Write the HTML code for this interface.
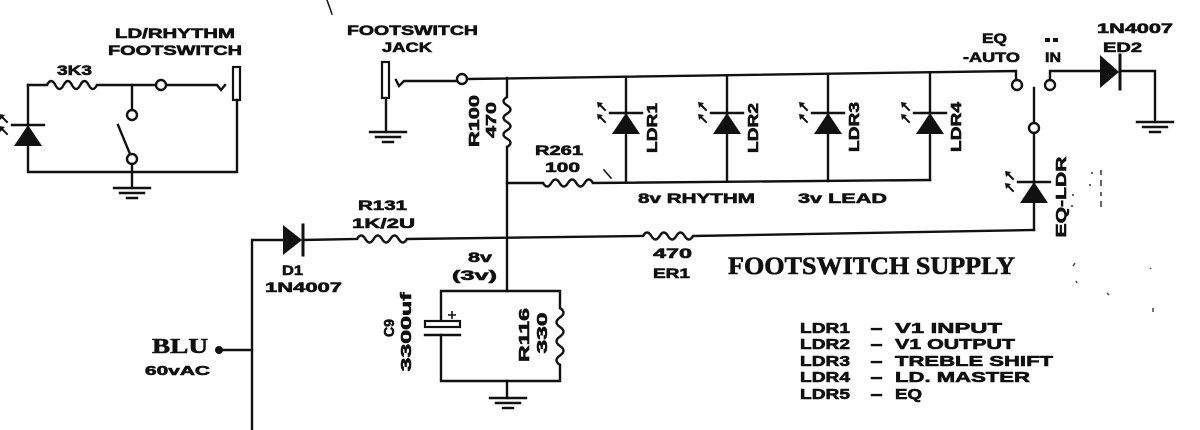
<!DOCTYPE html>
<html><head><meta charset="utf-8"><style>
html,body{margin:0;padding:0;background:#fff;width:1200px;height:430px;overflow:hidden}
svg{display:block}
text{font-family:"Liberation Sans",sans-serif;font-weight:bold;fill:#111;stroke:#111;stroke-width:0.6px}
.w{fill:none;stroke:#111;stroke-width:2.4;stroke-linecap:square}
.r{fill:none;stroke:#111;stroke-width:2.4}
</style></head><body>
<svg width="1200" height="430" viewBox="0 0 1200 430" xmlns="http://www.w3.org/2000/svg">
<defs>
<g id="ldr">
  <path d="M-16 0H16" class="w"/>
  <path d="M0 0L-14 21H14Z" fill="#111"/>
  <path d="M-27 -9L-21 -3M-27 3L-21 9" class="w" style="stroke-width:2"/>
  <path d="M-29 -11L-23 -10L-28 -5Z M-29 1L-23 2L-28 7Z" fill="#111"/>
</g>
<g id="gnd">
  <path d="M-18 0H18M-12 5H12M-5 10H5" class="w"/>
</g>
</defs>

<!-- stray mark top -->
<path d="M327 0L332 14" class="w" style="stroke-width:1.5"/>

<!-- ============ LEFT FOOTSWITCH CIRCUIT ============ -->
<text x="115" y="38" font-size="14" textLength="120" lengthAdjust="spacingAndGlyphs">LD/RHYTHM</text>
<text x="108" y="55" font-size="14" textLength="134" lengthAdjust="spacingAndGlyphs">FOOTSWITCH</text>
<text x="57" y="75" font-size="14" textLength="35" lengthAdjust="spacingAndGlyphs">3K3</text>
<path d="M28 85H47" class="w"/>
<path d="M47 85q4.17 -8 8.33 0t8.33 0t8.33 0t8.33 0t8.33 0t8.33 0" class="r"/>
<path d="M97 85H156M166 85H217L221 90L225 85" class="w"/>
<circle cx="161" cy="85" r="5" fill="#fff" stroke="#111" stroke-width="2.4"/>
<rect x="233" y="67" width="7" height="33" fill="#fff" stroke="#111" stroke-width="2.2"/>
<path d="M237 100V172H28V85" class="w"/>
<path d="M132 85V110" class="w"/>
<circle cx="132" cy="115" r="5" fill="#fff" stroke="#111" stroke-width="2.4"/>
<path d="M118 125L130 154" class="w"/>
<circle cx="132" cy="159" r="5" fill="#fff" stroke="#111" stroke-width="2.4"/>
<path d="M132 164V188" class="w"/>
<use href="#gnd" x="132" y="188"/>
<use href="#ldr" x="28" y="125"/>

<!-- ============ FOOTSWITCH JACK ============ -->
<text x="347" y="35" font-size="14" textLength="131" lengthAdjust="spacingAndGlyphs">FOOTSWITCH</text>
<text x="382" y="52" font-size="14" textLength="50" lengthAdjust="spacingAndGlyphs">JACK</text>
<rect x="382" y="62" width="7" height="36" fill="#fff" stroke="#111" stroke-width="2.2"/>
<path d="M386 98V132" class="w"/>
<use href="#gnd" x="388" y="132"/>
<path d="M396 80L399 86L404 81H457" class="w"/>
<circle cx="462" cy="79" r="5" fill="#fff" stroke="#111" stroke-width="2.4"/>
<!-- top bus -->
<path d="M467 79L1016 71V80" class="w"/>

<!-- R100 -->
<path d="M507 78V97" class="w"/>
<path d="M507 97q-7 4.17 0 8.33t0 8.33t0 8.33t0 8.33t0 8.33t0 8.33" class="r"/>
<path d="M507 147V291" class="w"/>
<text transform="translate(474,121) rotate(-90)" text-anchor="middle" y="5" font-size="15" textLength="52" lengthAdjust="spacingAndGlyphs">R100</text>
<text transform="translate(491,120) rotate(-90)" text-anchor="middle" y="5" font-size="15" textLength="36" lengthAdjust="spacingAndGlyphs">470</text>

<!-- R261 -->
<text x="535" y="155" font-size="14" textLength="48" lengthAdjust="spacingAndGlyphs">R261</text>
<text x="545" y="172" font-size="14" textLength="35" lengthAdjust="spacingAndGlyphs">100</text>
<path d="M507 183H543" class="w"/>
<path d="M543 183q4.17 7 8.33 0t8.33 0t8.33 0t8.33 0t8.33 0t8.33 0" class="r"/>
<path d="M593 183L930 180" class="w"/>
<path d="M604 170L611 178" class="w" style="stroke-width:1.6"/>

<!-- LDR columns -->
<path d="M626 76.7V182.5M727 75.2V181.8M828 73.7V181M930 72.2V180" class="w"/>
<use href="#ldr" x="626" y="113"/>
<use href="#ldr" x="727" y="113"/>
<use href="#ldr" x="828" y="113"/>
<use href="#ldr" x="930" y="113"/>
<text transform="translate(652,128) rotate(-90)" text-anchor="middle" y="5" font-size="15" textLength="50" lengthAdjust="spacingAndGlyphs">LDR1</text>
<text transform="translate(753,128) rotate(-90)" text-anchor="middle" y="5" font-size="15" textLength="50" lengthAdjust="spacingAndGlyphs">LDR2</text>
<text transform="translate(854,127) rotate(-90)" text-anchor="middle" y="5" font-size="15" textLength="50" lengthAdjust="spacingAndGlyphs">LDR3</text>
<text transform="translate(956,127) rotate(-90)" text-anchor="middle" y="5" font-size="15" textLength="50" lengthAdjust="spacingAndGlyphs">LDR4</text>
<text x="638" y="203" font-size="14" textLength="117" lengthAdjust="spacingAndGlyphs">8v  RHYTHM</text>
<text x="798" y="203" font-size="14" textLength="89" lengthAdjust="spacingAndGlyphs">3v  LEAD</text>

<!-- ============ RIGHT (EQ) ============ -->
<text x="982" y="43" font-size="14" textLength="25" lengthAdjust="spacingAndGlyphs">EQ</text>
<text x="963" y="62" font-size="14" textLength="57" lengthAdjust="spacingAndGlyphs">-AUTO</text>
<rect x="1045" y="38" width="5" height="4" fill="#111"/>
<rect x="1053" y="38" width="5" height="4" fill="#111"/>
<text x="1045" y="62" font-size="14" textLength="16" lengthAdjust="spacingAndGlyphs">IN</text>
<circle cx="1017" cy="85" r="5" fill="#fff" stroke="#111" stroke-width="2.4"/>
<circle cx="1050" cy="85" r="5" fill="#fff" stroke="#111" stroke-width="2.4"/>
<path d="M1050 80V71H1100" class="w"/>
<path d="M1100 55V88L1119 72Z" fill="#111"/>
<path d="M1120 55V89" class="w" style="stroke-width:3"/>
<path d="M1120 71H1155V122" class="w"/>
<use href="#gnd" x="1155" y="122"/>
<text x="1097" y="33" font-size="14" textLength="76" lengthAdjust="spacingAndGlyphs">1N4007</text>
<text x="1103" y="52" font-size="14" textLength="39" lengthAdjust="spacingAndGlyphs">ED2</text>
<path d="M1034 88V123" class="w"/>
<circle cx="1034" cy="128" r="5" fill="#fff" stroke="#111" stroke-width="2.4"/>
<path d="M1034 133V230" class="w"/>
<use href="#ldr" x="1034" y="182"/>
<text transform="translate(1061,197) rotate(-90)" text-anchor="middle" y="5" font-size="15" textLength="81" lengthAdjust="spacingAndGlyphs">EQ-LDR</text>
<!-- faint dotted marks -->
<path d="M1101 170V175M1101 180V186M1101 192V196M1101 201V207M1092 172V174M1090 184V186M1073 194V196M1072 205V207" stroke="#333" stroke-width="1.5"/>
<path d="M1073 266L1075 263M1076 281L1077 283M1107 293L1109 295M1150 268L1151 269M1153 308L1153 312" stroke="#444" stroke-width="1.5"/>

<!-- ============ SUPPLY ============ -->
<path d="M252 430V240H283" class="w"/>
<path d="M283 225V255L302 240Z" fill="#111"/>
<path d="M303 225V255" class="w" style="stroke-width:3"/>
<path d="M303 240L357 239" class="w"/>
<path d="M357 239q4.17 -7 8.33 0t8.33 0t8.33 0t8.33 0t8.33 0t8.33 0" class="r"/>
<path d="M407 239L643 236" class="w"/>
<path d="M643 236q4.17 -7 8.33 0t8.33 0t8.33 0t8.33 0t8.33 0t8.33 0" class="r"/>
<path d="M693 236L1034 230" class="w"/>
<text x="358" y="210" font-size="14" textLength="49" lengthAdjust="spacingAndGlyphs">R131</text>
<text x="352" y="228" font-size="14" textLength="63" lengthAdjust="spacingAndGlyphs">1K/2U</text>
<text x="282" y="275" font-size="14" textLength="21" lengthAdjust="spacingAndGlyphs">D1</text>
<text x="265" y="292" font-size="14" textLength="77" lengthAdjust="spacingAndGlyphs">1N4007</text>
<text x="653" y="258" font-size="14" textLength="39" lengthAdjust="spacingAndGlyphs">470</text>
<text x="653" y="278" font-size="14" textLength="37" lengthAdjust="spacingAndGlyphs">ER1</text>
<text x="152" y="353" font-size="21" style="font-family:'Liberation Serif',serif" textLength="56" lengthAdjust="spacingAndGlyphs">BLU</text>
<text x="145" y="375" font-size="13" textLength="65" lengthAdjust="spacingAndGlyphs">60vAC</text>
<circle cx="219" cy="350" r="4" fill="#111"/>
<path d="M219 350H252" class="w"/>
<text x="468" y="262" font-size="14" textLength="24" lengthAdjust="spacingAndGlyphs">8v</text>
<text x="452" y="280" font-size="14" textLength="45" lengthAdjust="spacingAndGlyphs">(3v)</text>

<!-- C9 / R116 box -->
<path d="M441 322V291H560V308" class="w"/>
<rect x="425" y="321" width="35" height="6" fill="#fff" stroke="#111" stroke-width="2.2"/>
<path d="M425 335H460" class="w"/>
<path d="M452 311V319M448 315H456" stroke="#111" stroke-width="1.6"/>
<path d="M441 335V381H560V365" class="w"/>
<path d="M560 308q7 4.75 0 9.5t0 9.5t0 9.5t0 9.5t0 9.5t0 9.5" class="r"/>
<path d="M507 381V398" class="w"/>
<use href="#gnd" x="508" y="398"/>
<text transform="translate(389,328) rotate(-90)" text-anchor="middle" y="5" font-size="15" textLength="18" lengthAdjust="spacingAndGlyphs">C9</text>
<text transform="translate(406,332) rotate(-90)" text-anchor="middle" y="5" font-size="15" textLength="79" lengthAdjust="spacingAndGlyphs">3300uf</text>
<text transform="translate(524,335) rotate(-90)" text-anchor="middle" y="5" font-size="15" textLength="54" lengthAdjust="spacingAndGlyphs">R116</text>
<text transform="translate(542,333) rotate(-90)" text-anchor="middle" y="5" font-size="15" textLength="41" lengthAdjust="spacingAndGlyphs">330</text>

<!-- Title -->
<text x="728" y="274" font-size="25" style="font-family:'Liberation Serif',serif;font-weight:bold" textLength="287" lengthAdjust="spacingAndGlyphs">FOOTSWITCH SUPPLY</text>

<!-- Legend -->
<g font-size="15">
<text x="800" y="333" textLength="50" lengthAdjust="spacingAndGlyphs">LDR1</text>
<text x="800" y="349" textLength="50" lengthAdjust="spacingAndGlyphs">LDR2</text>
<text x="800" y="366" textLength="50" lengthAdjust="spacingAndGlyphs">LDR3</text>
<text x="800" y="382" textLength="50" lengthAdjust="spacingAndGlyphs">LDR4</text>
<text x="800" y="399" textLength="50" lengthAdjust="spacingAndGlyphs">LDR5</text>
<text x="870" y="333" textLength="13" lengthAdjust="spacingAndGlyphs">-</text>
<text x="870" y="349" textLength="13" lengthAdjust="spacingAndGlyphs">-</text>
<text x="870" y="366" textLength="13" lengthAdjust="spacingAndGlyphs">-</text>
<text x="870" y="382" textLength="13" lengthAdjust="spacingAndGlyphs">-</text>
<text x="870" y="399" textLength="13" lengthAdjust="spacingAndGlyphs">-</text>
<text x="895" y="333" textLength="107" lengthAdjust="spacingAndGlyphs">V1  INPUT</text>
<text x="895" y="349" textLength="120" lengthAdjust="spacingAndGlyphs">V1  OUTPUT</text>
<text x="895" y="366" textLength="158" lengthAdjust="spacingAndGlyphs">TREBLE SHIFT</text>
<text x="895" y="382" textLength="135" lengthAdjust="spacingAndGlyphs">LD.  MASTER</text>
<text x="895" y="399" textLength="27" lengthAdjust="spacingAndGlyphs">EQ</text>
</g>
</svg>
</body></html>
